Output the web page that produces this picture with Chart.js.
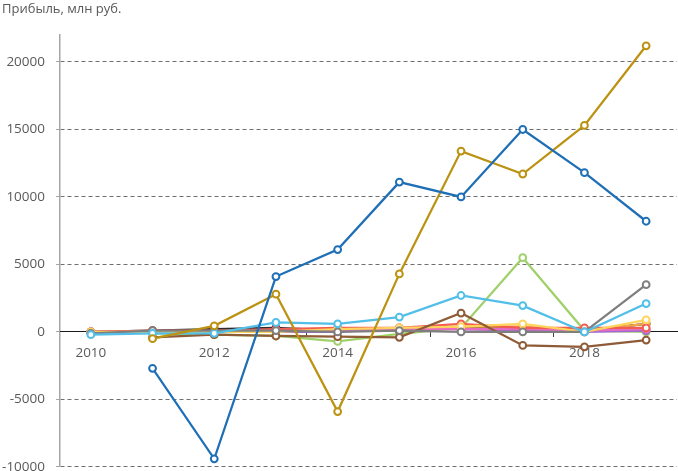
<!DOCTYPE html>
<html><head><meta charset="utf-8">
<script src="https://cdn.jsdelivr.net/npm/chart.js@4/dist/chart.umd.min.js"></script>
<style>html,body{margin:0;padding:0;background:#fff;overflow:hidden;}canvas{display:block;}</style>
</head><body>
<canvas id="c" width="678" height="486"></canvas>
<script>
const years = ['2010','2011','2012','2013','2014','2015','2016','2017','2018','2019'];
const yTicks = [-10000, -5000, 0, 5000, 10000, 15000, 20000];
const titleText = 'Прибыль, млн руб.';

const sBlue   = [null, -2700, -9400, 4100, 6100, 11100, 10000, 15000, 11800, 8200];
const sGold   = [null, -500, 450, 2800, -5900, 4300, 13400, 11700, 15300, 21200];
const sGreen  = [null, -100, -200, -300, -700, -150, 300, 5500, 100, 0];
const sCyan   = [-200, -100, -100, 700, 600, 1100, 2700, 1950, 0, 2100];
const sGrey   = [-100, 100, 100, 100, 0, 100, 0, 0, 0, 3500];
const sBrown  = [null, -400, -200, -300, -350, -400, 1400, -1000, -1100, -600];
const sYellow = [0, 0, 0, 0, 200, 300, 400, 600, 0, 900];
const sRed    = [0, 100, 100, 200, 300, 300, 600, 300, 300, 300];
const sPink   = [0, 0, 0, 100, 100, 200, 200, 200, 100, 200];
const sPurple = [0, 0, 0, 0, 0, 300, 200, 100, 0, 100];
const sOrange = [0, 0, 0, 100, 200, 200, 400, 400, 100, 600];
const sBlack  = [0, 100, 200, 300, 100, 100, 300, 300, 100, 600];

function ds(data, color) {
  return { data, borderColor: color, pointBorderColor: color, pointBackgroundColor: '#ffffff',
    borderWidth: 2.25, pointRadius: 3.4, pointBorderWidth: 2, pointHoverRadius: 3.4, spanGaps: false, tension: 0 };
}

const titlePlugin = {
  id: 'titleText',
  afterDraw(chart) {
    const ctx = chart.ctx;
    ctx.save();
    ctx.font = '13px "Open Sans", sans-serif';
    ctx.fillStyle = '#595959';
    ctx.textAlign = 'left';
    ctx.textBaseline = 'middle';
    ctx.fillText(titleText, 2, 9);
    ctx.restore();
  }
};

const numFont = { size: 13.5, family: '"Open Sans", sans-serif' };

new Chart(document.getElementById('c'), {
  type: 'line',
  data: {
    labels: years,
    datasets: [
      ds(sBlue, '#1f6fb6'),
      ds(sGold, '#bc9212'),
      ds(sCyan, '#52bfe8'),
      ds(sGrey, '#7f7f7f'),
      ds(sBrown, '#8f5b37'),
      ds(sYellow, '#ffd35c'),
      ds(sRed, '#f25d52'),
      ds(sPink, '#e56cc0'),
      ds(sOrange, '#f6a54a'),
      ds(sPurple, '#9a6ad0'),
      ds(sBlack, '#2b2b2b'),
      ds(sGreen, '#9fd06a')
    ]
  },
  options: {
    responsive: false,
    animation: false,
    layout: { autoPadding: false, padding: { left: 0, top: 35, right: 1, bottom: 5 } },
    plugins: { legend: { display: false }, tooltip: { enabled: false } },
    scales: {
      y: {
        min: -10000, max: 22000,
        afterBuildTicks(scale) { scale.ticks = yTicks.map(v => ({ value: v })); },
        afterFit(scale) { scale.width = 60; },
        ticks: { color: '#595959', font: numFont, padding: 11, callback: v => String(v) },
        grid: {
          color: ctx => (ctx.tick && ctx.tick.value === 0) ? 'rgba(0,0,0,0)' : '#6f6f6f',
          tickColor: '#a6a6a6',
          tickLength: 4,
          lineWidth: 1
        },
        border: { display: true, color: '#a6a6a6', width: 1.5, dash: [4, 3] }
      },
      x: {
        type: 'category',
        offset: true,
        position: { y: 0 },
        ticks: {
          color: '#595959', font: numFont,
          autoSkip: false, maxRotation: 0, padding: 8,
          callback: function(v, i) { return i % 2 === 0 ? this.getLabelForValue(v) : ''; }
        },
        grid: {
          offset: true, drawOnChartArea: false, drawTicks: true, tickLength: 5,
          tickColor: ctx => (ctx.index % 2 === 0) ? '#404040' : 'rgba(0,0,0,0)'
        },
        border: { display: true, color: '#1a1a1a', width: 1 }
      }
    }
  },
  plugins: [titlePlugin]
});
</script>
</body></html>
